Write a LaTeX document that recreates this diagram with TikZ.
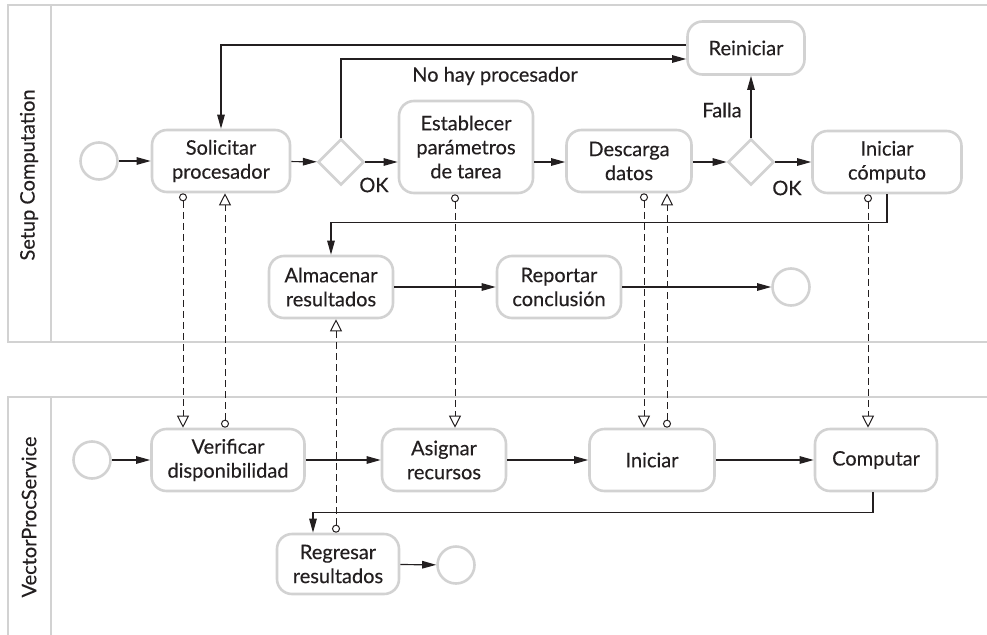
\documentclass[tikz,border=0pt]{standalone}
\usepackage{fontspec}
\setmainfont[FakeBold=0.35]{Lato}
\usetikzlibrary{arrows.meta,shapes.geometric}
\definecolor{lanegray}{HTML}{D2D2D2}
\definecolor{inkdark}{HTML}{231F20}
\tikzset{
  lane/.style={draw=lanegray, line width=2.6pt},
  task/.style={draw=lanegray, line width=2.6pt, rounded corners=15pt, minimum width=124pt, minimum height=62pt, align=center, text=inkdark, inner sep=2pt},
  gateway/.style={draw=lanegray, line width=2.6pt, diamond, minimum width=46pt, minimum height=46pt, inner sep=0pt},
  event/.style={draw=lanegray, line width=2.6pt, circle, minimum size=37pt, inner sep=0pt},
  flow/.style={draw=inkdark, line width=1.2pt, -{Triangle[length=14pt,width=7.5pt]}},
  msg/.style={draw=inkdark, line width=1pt, dash pattern=on 7pt off 4pt, {Circle[open,length=8pt,width=8pt]}-{Triangle[open,length=12pt,width=12pt]}},
  lbl/.style={text=inkdark, inner sep=0pt}
}

\begin{document}
\begin{tikzpicture}[x=1pt, y=-1pt, font=\fontsize{20}{24}\selectfont]
  \useasboundingbox (0,0) rectangle (987,634);
  \draw[lane] (987,5) -- (8,5) -- (8,342) -- (987,342);
  \draw[lane] (51,5) -- (51,342);
  \draw[lane] (8,640) -- (8,397) -- (987,397);
  \draw[lane] (51,397) -- (51,640);
  \node[lbl, rotate=90] (lane1) at (29,175) {Setup Computation};
  \node[lbl, rotate=90] (lane2) at (29,517) {VectorProcService};

  \node[event] (s1) at (99,161) {};
  \node[task, minimum width=138pt] (solicitar) at (221,161) {Solicitar\\procesador};
  \node[gateway] (g1) at (341,162) {};
  \node[task, minimum width=134pt, minimum height=92pt] (establecer) at (466,147) {Establecer\\parámetros\\de tarea};
  \node[task, minimum width=125pt] (descarga) at (629,161) {Descarga\\datos};
  \node[gateway] (g2) at (751,162) {};
  \node[task, minimum width=149pt] (iniciarc) at (887,162) {Iniciar\\cómputo};
  \node[task, minimum width=117pt, minimum height=53pt] (reiniciar) at (746,48) {Reiniciar};
  \node[task] (almacenar) at (331,287) {Almacenar\\resultados};
  \node[task] (reportar) at (559,287) {Reportar\\conclusión};
  \node[event] (e1) at (791,287) {};

  \node[event] (s2) at (92,460) {};
  \node[task, minimum width=153pt] (verificar) at (228,460) {Verificar\\disponibilidad};
  \node[task] (asignar) at (444,460) {Asignar\\recursos};
  \node[task, minimum width=125pt] (iniciar) at (652,460) {Iniciar};
  \node[task, minimum width=122pt] (computar) at (876,460) {Computar};
  \node[task, minimum width=122pt, minimum height=60pt] (regresar) at (338,564) {Regresar\\resultados};
  \node[event] (e2) at (456,565) {};

  \node[lbl] (ok1) at (374,185) {OK};
  \node[lbl] (ok2) at (787,188) {OK};
  \node[lbl] (falla) at (722,110) {Falla};
  \node[lbl] (nohay) at (495,76) {No hay procesador};

  \draw[flow] (s1) -- (solicitar);
  \draw[flow] (solicitar) -- (g1);
  \draw[flow] (g1.east) -- (g1.east -| establecer.west);
  \draw[flow] (establecer.east |- g1) -- (g1 -| descarga.west);
  \draw[flow] (descarga.east |- g2) -- (g2);
  \draw[flow] (g2) -- (g2 -| iniciarc.west);
  \draw[flow] (g2.north) -- (g2.north |- reiniciar.south);
  \draw[flow] (g1.north) |- ([yshift=-11pt]reiniciar.west);
  \draw[flow] ([yshift=3pt]reiniciar.west) -| (solicitar.north);
  \draw[flow] (iniciarc.south) -- ++(0,28) -| (almacenar.north);
  \draw[flow] (almacenar) -- (reportar);
  \draw[flow] (reportar) -- (e1);

  \draw[flow] (s2) -- (verificar);
  \draw[flow] (verificar) -- (asignar);
  \draw[flow] (asignar) -- (iniciar);
  \draw[flow] (iniciar) -- (computar);
  \draw[flow] ([xshift=-3pt]computar.south) -- ++(0,20) -| ([xshift=-25pt]regresar.north);
  \draw[flow] (regresar) -- (e2);

  \draw[msg] ([xshift=-38pt]solicitar.south) -- ([xshift=-38pt]solicitar.south |- verificar.north);
  \draw[msg] ([xshift=-3pt]verificar.north) -- ([xshift=-3pt]verificar.north |- solicitar.south);
  \draw[msg] ([xshift=-11pt]establecer.south) -- ([xshift=-11pt]establecer.south |- asignar.north);
  \draw[msg] ([xshift=15pt]descarga.south) -- ([xshift=15pt]descarga.south |- iniciar.north);
  \draw[msg] ([xshift=15pt]iniciar.north) -- ([xshift=15pt]iniciar.north |- descarga.south);
  \draw[msg] ([xshift=-19pt]iniciarc.south) -- ([xshift=-19pt]iniciarc.south |- computar.north);
  \draw[msg] ([xshift=-2pt]regresar.north) -- ([xshift=-2pt]regresar.north |- almacenar.south);
\end{tikzpicture}
\end{document}
